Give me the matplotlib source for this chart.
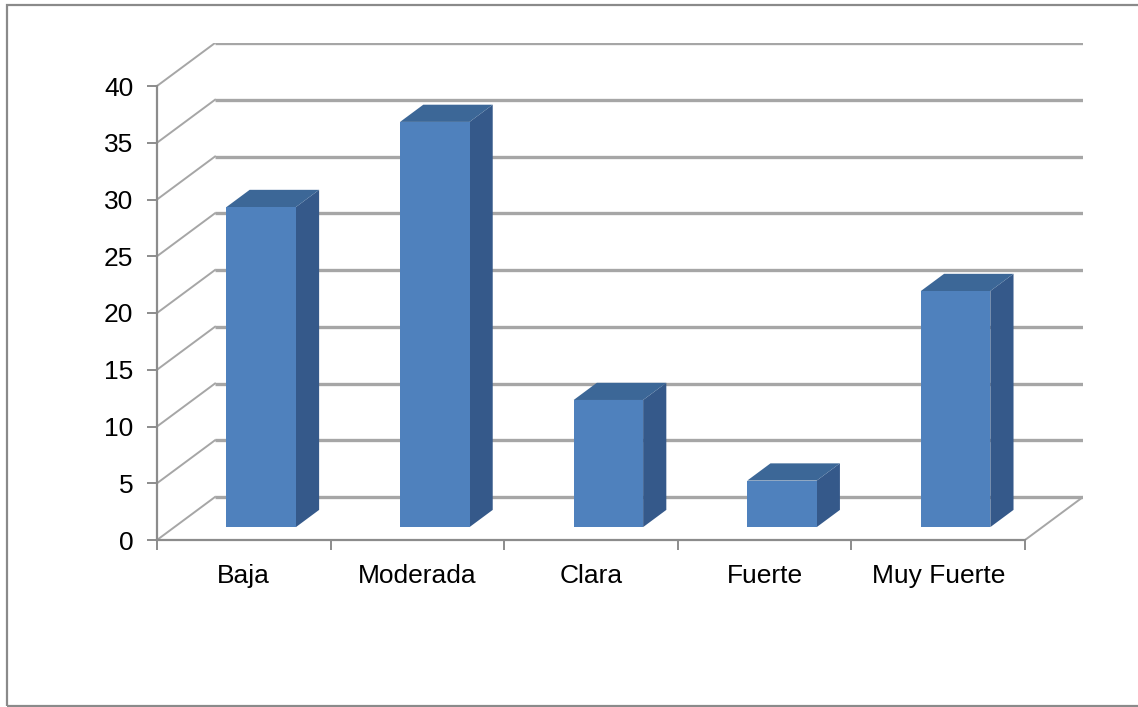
import matplotlib
matplotlib.use("Agg")
import matplotlib.pyplot as plt
from matplotlib.patches import Polygon, Rectangle
import numpy as np

plt.rcParams['font.family'] = ['Liberation Sans', 'DejaVu Sans']

categories = ['Baja', 'Moderada', 'Clara', 'Fuerte', 'Muy Fuerte']
values = [28.2, 35.7, 11.2, 4.1, 20.8]
y_ticks = [0, 5, 10, 15, 20, 25, 30, 35, 40]

W, H = 1138, 707
fig = plt.figure(figsize=(W / 100, H / 100), dpi=100)

# plot area in pixels: front floor corner (157, 540), back top corner (1083, 43)
left, right, bottom, top = 157, 1083, 540, 43
ax = fig.add_axes([left / W, 1 - bottom / H, (right - left) / W, (bottom - top) / H])

n = len(categories)
ymax = y_ticks[-1]
px_x = (1025 - left) / n          # pixels per category
px_y = (bottom - 86) / ymax       # pixels per unit
DX = 58 / px_x                    # depth offset in data units
DY = 43 / px_y

ax.set_xlim(0, n + DX)
ax.set_ylim(0, ymax + DY)

grid_col = '#a6a6a6'
axis_col = '#8c8c8c'

# back wall grid and left side wall
for v in y_ticks:
    ax.plot([DX, n + DX], [v + DY, v + DY], color=grid_col, lw=2.4, zorder=1,
            solid_capstyle='butt')
    ax.plot([0, DX], [v, v + DY], color=grid_col, lw=1.4, zorder=1)
# floor right edge
ax.plot([n, n + DX], [0, DY], color=grid_col, lw=1.4, zorder=1)

# bars: front face, top and side
front_col = '#4f81bd'
top_col = '#3c6797'
side_col = '#35598a'
width = 0.4
d0, d1 = 0.3, 0.7
for i, v in enumerate(values):
    x0 = i + 0.5 - width / 2 + d0 * DX
    x1 = x0 + width
    y0 = d0 * DY
    y1 = y0 + v
    ddx = (d1 - d0) * DX
    ddy = (d1 - d0) * DY
    ax.add_patch(Polygon([(x1, y0), (x1 + ddx, y0 + ddy), (x1 + ddx, y1 + ddy), (x1, y1)],
                         closed=True, fc=side_col, ec='none', zorder=3))
    ax.add_patch(Polygon([(x0, y1), (x0 + ddx, y1 + ddy), (x1 + ddx, y1 + ddy), (x1, y1)],
                         closed=True, fc=top_col, ec='none', zorder=3))
    ax.add_patch(Rectangle((x0, y0), width, v, fc=front_col, ec='none', zorder=4))

# axes lines and ticks
for s in ['top', 'right']:
    ax.spines[s].set_visible(False)
ax.spines['left'].set_bounds(0, ymax)
ax.spines['bottom'].set_bounds(0, n)
for s in ['left', 'bottom']:
    ax.spines[s].set_color(axis_col)
    ax.spines[s].set_linewidth(1.6)
    ax.spines[s].set_zorder(2)

ax.set_yticks(y_ticks)
ax.set_yticklabels([str(t) for t in y_ticks])
ax.set_xticks(np.arange(n + 1))
ax.set_xticklabels([])
ax.set_xticks(np.arange(n) + 0.5, minor=True)
ax.set_xticklabels(categories, minor=True)
ax.tick_params(axis='y', length=7, width=1.4, color=axis_col, pad=10, labelsize=19)
ax.tick_params(axis='x', which='major', length=7, width=1.4, color=axis_col)
ax.tick_params(axis='x', which='minor', length=0, pad=17, labelsize=19)
ax.patch.set_visible(False)

# outer chart border
fig.patches.append(Rectangle((7 / W, 1 - 706 / H), (W + 5 - 7) / W, (706 - 5) / H,
                             transform=fig.transFigure, fill=False,
                             ec='#8a8a8a', lw=1.6))

fig.savefig('out.png', dpi=100, facecolor='white')
